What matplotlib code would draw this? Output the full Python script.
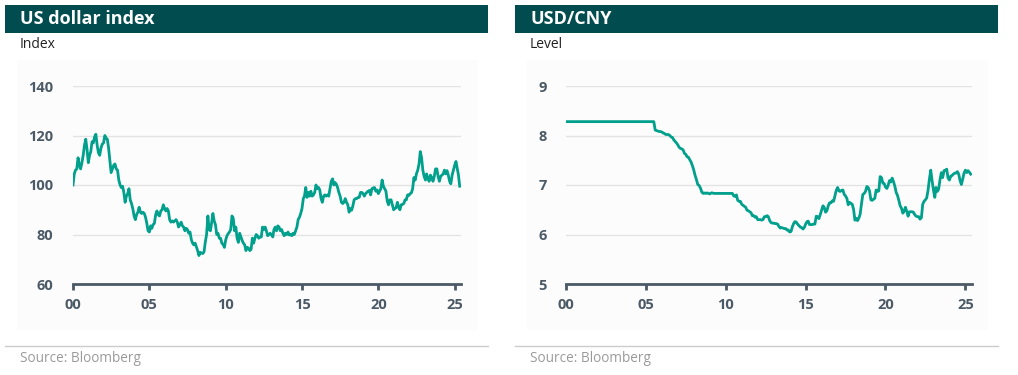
import numpy as np
import pandas as pd
import matplotlib
matplotlib.use("Agg")
import matplotlib.pyplot as plt
from matplotlib.patches import Rectangle
from matplotlib.lines import Line2D

plt.rcParams['font.family'] = ['Open Sans', 'DejaVu Sans']

# monthly values (month start), Jan 2000 - May 2025
dxy = [
    100.0, 104.5, 106.0, 106.5, 111.0, 108.0, 106.5, 109.0, 112.0, 116.0, 118.5, 114.5,
    109.0, 112.0, 113.5, 117.5, 117.0, 119.5, 120.5, 116.0, 113.0, 112.0, 115.0, 116.5,
    117.0, 120.0, 119.0, 118.5, 115.0, 110.0, 105.0, 106.5, 108.0, 108.5, 106.5, 106.0,
    102.0, 100.0, 99.0, 99.5, 97.0, 93.0, 95.5, 96.5, 98.5, 94.0, 92.5, 90.5,
    87.5, 86.0, 88.0, 89.0, 91.0, 89.0, 88.5, 89.0, 88.5, 87.0, 84.5, 81.5,
    81.0, 83.5, 82.5, 84.0, 84.5, 88.0, 89.5, 88.0, 87.5, 89.5, 90.0, 92.0,
    90.5, 89.5, 90.5, 89.5, 86.0, 85.0, 85.5, 85.0, 85.5, 86.0, 85.0, 83.0,
    84.0, 85.0, 83.5, 83.0, 81.5, 82.5, 82.0, 80.5, 81.0, 78.0, 76.5, 75.8,
    76.5, 75.0, 73.5, 71.5, 72.8, 72.5, 72.3, 73.0, 77.0, 80.0, 87.5, 82.0,
    81.5, 85.0, 88.5, 85.5, 84.0, 80.0, 80.5, 78.5, 78.5, 76.5, 76.0, 74.8,
    77.8, 79.5, 80.3, 81.0, 82.0, 87.5, 86.5, 81.5, 83.0, 78.5, 76.8, 80.5,
    79.0, 77.5, 76.5, 75.8, 73.5, 74.8, 74.5, 73.5, 74.0, 78.5, 76.5, 78.5,
    80.0, 79.5, 78.5, 79.0, 79.0, 83.0, 82.0, 83.0, 81.5, 79.5, 80.0, 80.5,
    79.8, 79.0, 82.0, 83.0, 81.5, 83.5, 83.0, 81.5, 82.0, 80.5, 79.5, 80.5,
    80.0, 81.0, 79.8, 80.0, 79.5, 80.5, 80.0, 81.5, 83.0, 86.0, 87.0, 88.5,
    90.5, 94.5, 95.5, 99.0, 95.0, 97.0, 95.5, 97.5, 95.5, 96.0, 97.0, 100.0,
    98.5, 99.0, 98.0, 94.5, 93.0, 95.5, 96.0, 95.5, 96.0, 95.5, 98.5, 101.5,
    102.5, 100.0, 101.0, 100.3, 99.0, 97.0, 95.5, 93.0, 92.5, 93.0, 94.5, 93.0,
    92.0, 89.0, 90.5, 89.8, 91.5, 94.0, 94.5, 94.5, 95.0, 95.0, 97.0, 97.0,
    96.5, 95.5, 96.5, 97.0, 97.5, 97.8, 96.0, 98.5, 98.8, 99.0, 97.5, 98.0,
    96.5, 97.5, 98.5, 102.0, 99.5, 98.5, 97.5, 93.5, 92.0, 94.0, 94.0, 92.0,
    90.0, 90.5, 90.8, 93.0, 91.0, 90.0, 92.0, 92.2, 92.5, 94.0, 94.0, 96.0,
    95.8, 96.5, 96.8, 98.5, 103.0, 102.0, 104.5, 106.0, 108.5, 113.5, 111.0, 106.0,
    103.5, 102.0, 104.5, 102.5, 101.5, 104.0, 103.0, 101.5, 103.5, 106.5, 106.5, 103.5,
    101.5, 103.5, 104.0, 104.5, 106.0, 104.5, 105.8, 104.0, 101.5, 100.5, 104.0, 106.0,
    108.0, 109.5, 107.0, 104.0, 99.5,
]

usdcny = [
    8.28, 8.28, 8.28, 8.28, 8.28, 8.28, 8.28, 8.28, 8.28, 8.28, 8.28, 8.28,
    8.28, 8.28, 8.28, 8.28, 8.28, 8.28, 8.28, 8.28, 8.28, 8.28, 8.28, 8.28,
    8.28, 8.28, 8.28, 8.28, 8.28, 8.28, 8.28, 8.28, 8.28, 8.28, 8.28, 8.28,
    8.28, 8.28, 8.28, 8.28, 8.28, 8.28, 8.28, 8.28, 8.28, 8.28, 8.28, 8.28,
    8.28, 8.28, 8.28, 8.28, 8.28, 8.28, 8.28, 8.28, 8.28, 8.28, 8.28, 8.28,
    8.28, 8.28, 8.28, 8.28, 8.28, 8.28, 8.28, 8.11, 8.10, 8.09, 8.08, 8.08,
    8.07, 8.05, 8.04, 8.02, 8.02, 8.02, 8.00, 7.97, 7.96, 7.91, 7.88, 7.85,
    7.81, 7.76, 7.74, 7.73, 7.71, 7.64, 7.62, 7.57, 7.56, 7.51, 7.46, 7.39,
    7.30, 7.19, 7.11, 7.01, 6.99, 6.94, 6.86, 6.83, 6.84, 6.83, 6.84, 6.83,
    6.82, 6.84, 6.84, 6.83, 6.83, 6.83, 6.83, 6.83, 6.83, 6.83, 6.83, 6.83,
    6.83, 6.83, 6.83, 6.83, 6.83, 6.83, 6.78, 6.77, 6.80, 6.69, 6.67, 6.67,
    6.61, 6.59, 6.57, 6.55, 6.49, 6.48, 6.46, 6.44, 6.38, 6.38, 6.35, 6.36,
    6.30, 6.30, 6.30, 6.29, 6.30, 6.36, 6.36, 6.38, 6.36, 6.28, 6.24, 6.23,
    6.23, 6.22, 6.22, 6.21, 6.16, 6.13, 6.14, 6.13, 6.12, 6.12, 6.09, 6.09,
    6.05, 6.06, 6.15, 6.22, 6.26, 6.25, 6.21, 6.18, 6.15, 6.14, 6.11, 6.14,
    6.21, 6.26, 6.27, 6.20, 6.20, 6.20, 6.21, 6.21, 6.37, 6.36, 6.32, 6.40,
    6.49, 6.58, 6.55, 6.45, 6.48, 6.58, 6.64, 6.64, 6.68, 6.67, 6.78, 6.89,
    6.95, 6.88, 6.87, 6.89, 6.90, 6.81, 6.78, 6.73, 6.60, 6.65, 6.63, 6.61,
    6.51, 6.29, 6.33, 6.28, 6.33, 6.41, 6.62, 6.81, 6.83, 6.87, 6.97, 6.95,
    6.88, 6.70, 6.69, 6.71, 6.73, 6.90, 6.87, 6.88, 7.17, 7.15, 7.04, 7.03,
    6.96, 6.93, 6.99, 7.09, 7.06, 7.14, 7.07, 6.98, 6.85, 6.79, 6.69, 6.58,
    6.53, 6.43, 6.47, 6.55, 6.47, 6.37, 6.46, 6.46, 6.46, 6.45, 6.40, 6.37,
    6.36, 6.36, 6.31, 6.34, 6.61, 6.67, 6.70, 6.74, 6.90, 7.12, 7.30, 7.09,
    6.90, 6.75, 6.95, 6.87, 6.92, 7.11, 7.25, 7.15, 7.29, 7.30, 7.32, 7.14,
    7.10, 7.18, 7.19, 7.22, 7.24, 7.24, 7.27, 7.22, 7.09, 7.01, 7.12, 7.24,
    7.30, 7.25, 7.29, 7.26, 7.22,
]

dates = pd.date_range('2000-01-01', periods=len(dxy), freq='MS')
x_years = ['2000', '2005', '2010', '2015', '2020', '2025']
x_labels = ['00', '05', '10', '15', '20', '25']

TEAL = '#00a08c'
HEAD = '#004c4e'
AXC = '#4b5a66'
W, H = 1018, 375

fig = plt.figure(figsize=(W / 100, H / 100), dpi=100)


def fx(px):
    return px / W


def fy(py):
    return 1 - py / H


def panel(x0, x1, ax_left, ax_right, title, unit, vals, yticks, ylim):
    # header bar
    fig.add_artist(Rectangle((fx(x0), fy(33)), fx(x1) - fx(x0), fy(5) - fy(33),
                             transform=fig.transFigure, color=HEAD, lw=0))
    fig.text(fx(x0 + 15), fy(19), title, color='white', fontsize=13,
             fontweight='bold', va='center', ha='left')
    fig.text(fx(x0 + 15), fy(45), unit, color='#222222', fontsize=10,
             va='center', ha='left')
    # faint plot background, behind the axes
    fig.add_artist(Rectangle((fx(x0 + 12), fy(330)), fx(x1 - 10) - fx(x0 + 12), fy(60) - fy(330),
                             transform=fig.transFigure, color='#fcfcfc', lw=0, zorder=-5))
    # source line
    fig.add_artist(Line2D([fx(x0), fx(x1)], [fy(346), fy(346)],
                          transform=fig.transFigure, color='#cccccc', lw=1))
    fig.text(fx(x0 + 15), fy(358), 'Source: Bloomberg', color='#9a9a9a',
             fontsize=9.8, va='center', ha='left')

    ax = fig.add_axes([fx(ax_left), fy(284), fx(ax_right) - fx(ax_left), fy(86) - fy(284)])
    ax.set_zorder(2)
    ax.patch.set_alpha(0)
    ax.plot(dates, vals, color=TEAL, lw=2.0)
    ax.set_ylim(*ylim)
    ax.set_yticks(yticks)
    ax.set_xlim(pd.Timestamp('2000-01-01'), pd.Timestamp('2025-06-01'))
    ax.set_xticks([pd.Timestamp(y + '-01-01') for y in x_years])
    ax.set_xticklabels(x_labels)
    ax.grid(axis='y', color='#e3e3e3', lw=1)
    ax.set_axisbelow(True)
    for s in ['top', 'right', 'left']:
        ax.spines[s].set_visible(False)
    ax.spines['bottom'].set_color(AXC)
    ax.spines['bottom'].set_linewidth(2)
    ax.tick_params(axis='x', colors=AXC, length=4, width=2, pad=6,
                   labelsize=10.5)
    ax.tick_params(axis='y', length=0, pad=14, labelcolor=AXC, labelsize=10.5)
    for t in ax.get_xticklabels() + ax.get_yticklabels():
        t.set_fontweight('bold')
    return ax


panel(5, 488, 73, 461, 'US dollar index', 'Index', dxy, [60, 80, 100, 120, 140], (60, 140))
panel(515, 998, 566, 972, 'USD/CNY', 'Level', usdcny, [5, 6, 7, 8, 9], (5, 9))

fig.savefig('out.png', dpi=100)
